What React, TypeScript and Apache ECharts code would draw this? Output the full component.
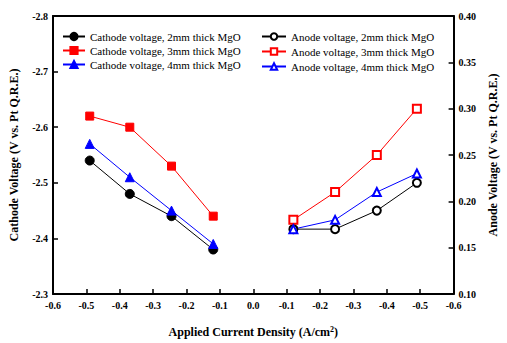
import React, { useEffect, useRef } from "react";
import * as echarts from "echarts";

// Applied current density magnitude (A/cm^2)
const currentDensity = [0.12, 0.245, 0.37, 0.49];

// Cathode voltages (V vs. Pt Q.R.E.)
const cathode2mm = [-2.38, -2.44, -2.48, -2.54];
const cathode3mm = [-2.44, -2.53, -2.6, -2.62];
const cathode4mm = [-2.39, -2.45, -2.51, -2.57];

// Anode voltages (V vs. Pt Q.R.E.)
const anode2mm = [0.17, 0.17, 0.19, 0.22];
const anode3mm = [0.18, 0.21, 0.25, 0.3];
const anode4mm = [0.17, 0.18, 0.21, 0.23];

const FONT = "'Liberation Serif', 'Times New Roman', serif";

export default function App() {
  const ref = useRef<HTMLDivElement>(null);
  useEffect(() => {
    if (!ref.current) return;
    const chart = echarts.init(ref.current, undefined, { renderer: "svg" });
    const cath = (vals: number[]) => currentDensity.map((c, i) => [-c, vals[i]]);
    const anod = (vals: number[]) => currentDensity.map((c, i) => [c, vals[i]]);
    const mk = (name: string, data: number[][], color: string, symbol: string, size: number, yi: number) => ({
      name,
      type: "line",
      xAxisIndex: 0,
      yAxisIndex: yi,
      data,
      symbol,
      symbolSize: size,
      showAllSymbol: true,
      lineStyle: { color, width: 1 },
      itemStyle: { color, borderColor: color, borderWidth: 1 },
      emphasis: { disabled: true },
    });
    const axisLabelStyle = { fontFamily: FONT, fontWeight: "bold" as const, fontSize: 10, color: "#000" };
    const nameStyle = { fontFamily: FONT, fontWeight: "bold" as const, fontSize: 12, color: "#000" };
    const line = { show: true, onZero: false, lineStyle: { color: "#000", width: 2 } };
    const tick = { show: true, inside: true, length: 5, lineStyle: { color: "#000", width: 1.5 } };
    chart.setOption({
      animation: false,
      backgroundColor: "#fff",
      textStyle: { fontFamily: FONT },
      grid: { left: 53, right: 52, top: 16, bottom: 49, show: false },
      legend: [
        {
          orient: "vertical",
          left: 57,
          top: 25,
          itemWidth: 22,
          itemHeight: 9,
          itemGap: 1,
          textStyle: { fontFamily: FONT, fontSize: 11, color: "#000", lineHeight: 13 },
          data: ["Cathode voltage, 2mm thick MgO", "Cathode voltage, 3mm thick MgO", "Cathode voltage, 4mm thick MgO"],
        },
        {
          orient: "vertical",
          left: 256,
          top: 25,
          itemWidth: 24,
          itemHeight: 8,
          itemGap: 2,
          textStyle: { fontFamily: FONT, fontSize: 11, color: "#000", lineHeight: 13 },
          data: ["Anode voltage, 2mm thick MgO", "Anode voltage, 3mm thick MgO", "Anode voltage, 4mm thick MgO"],
        },
      ],
      xAxis: [
        {
          type: "value",
          position: "bottom",
          min: -0.6,
          max: 0.6,
          interval: 0.1,
          name: "Applied Current Density (A/cm{sup|2})",
          nameLocation: "middle",
          nameGap: 31,
          nameTextStyle: {
            ...nameStyle,
            rich: { sup: { fontFamily: FONT, fontWeight: "bold", fontSize: 8, verticalAlign: "top", padding: [0, 0, 6, 0] } },
          },
          axisLine: line,
          axisTick: tick,
          axisLabel: {
            ...axisLabelStyle,
            margin: 6,
            formatter: (v: number) => (Math.abs(v) < 1e-9 ? "0.0" : (-Math.abs(v)).toFixed(1)),
          },
          splitLine: { show: false },
        },
        {
          type: "value",
          position: "top",
          min: -0.6,
          max: 0.6,
          interval: 0.1,
          axisLine: line,
          axisTick: { show: false },
          axisLabel: { show: false },
          splitLine: { show: false },
        },
      ],
      yAxis: [
        {
          type: "value",
          inverse: true,
          min: -2.8,
          max: -2.3,
          interval: 0.1,
          position: "left",
          name: "Cathode Voltage (V vs. Pt Q.R.E.)",
          nameLocation: "middle",
          nameGap: 33,
          nameTextStyle: nameStyle,
          axisLine: line,
          axisTick: tick,
          axisLabel: { ...axisLabelStyle, margin: 5, formatter: (v: number) => v.toFixed(1) },
          splitLine: { show: false },
        },
        {
          type: "value",
          min: 0.1,
          max: 0.4,
          interval: 0.05,
          position: "right",
          name: "Anode Voltage (V vs. Pt Q.R.E.)",
          nameLocation: "middle",
          nameGap: 32,
          nameTextStyle: nameStyle,
          axisLine: line,
          axisTick: tick,
          axisLabel: { ...axisLabelStyle, margin: 5, formatter: (v: number) => v.toFixed(2) },
          splitLine: { show: false },
        },
      ],
      series: [
        mk("Cathode voltage, 2mm thick MgO", cath(cathode2mm), "#000000", "circle", 9, 0),
        mk("Cathode voltage, 3mm thick MgO", cath(cathode3mm), "#ff0000", "rect", 8, 0),
        mk("Cathode voltage, 4mm thick MgO", cath(cathode4mm), "#0000ff", "triangle", 9, 0),
        mk("Anode voltage, 2mm thick MgO", anod(anode2mm), "#000000", "emptyCircle", 8, 1),
        mk("Anode voltage, 3mm thick MgO", anod(anode3mm), "#ff0000", "emptyRect", 8, 1),
        mk("Anode voltage, 4mm thick MgO", anod(anode4mm), "#0000ff", "emptyTriangle", 8, 1),
      ],
    });
    return () => chart.dispose();
  }, []);
  return <div ref={ref} style={{ width: 507, height: 343, position: "absolute", left: 0, top: 0 }} />;
}
